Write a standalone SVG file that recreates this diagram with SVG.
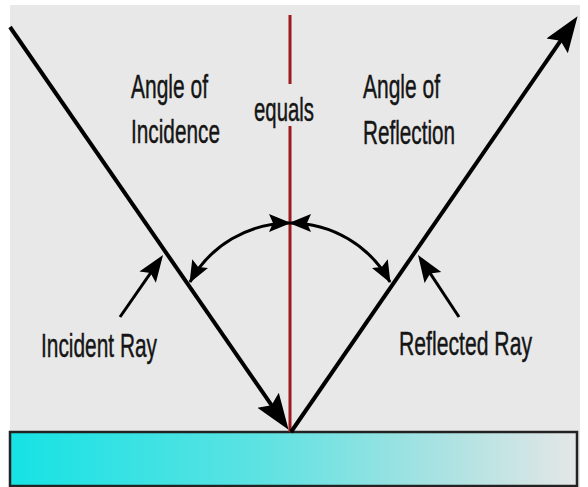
<svg xmlns="http://www.w3.org/2000/svg" width="588" height="487" viewBox="0 0 588 487">
<defs>
<linearGradient id="water" x1="0" y1="0" x2="1" y2="0">
<stop offset="0" stop-color="#16e2e4"/>
<stop offset="0.45" stop-color="#5fe2e2"/>
<stop offset="0.75" stop-color="#a8e2e2"/>
<stop offset="1" stop-color="#e4e6e6"/>
</linearGradient>
<marker id="bigArrow" markerUnits="userSpaceOnUse" markerWidth="38" markerHeight="30" viewBox="0 0 38 30" refX="29" refY="15" orient="auto">
<path d="M0,2 L36,15 L0,28 L6,15 Z" fill="#000"/>
</marker>
<marker id="ptrArrow" markerUnits="userSpaceOnUse" markerWidth="28" markerHeight="22" viewBox="0 0 28 22" refX="22" refY="11" orient="auto">
<path d="M0,1 L27,11 L0,21 L5,11 Z" fill="#000"/>
</marker>
<marker id="arcArrow" markerUnits="userSpaceOnUse" markerWidth="24" markerHeight="20" viewBox="0 0 24 20" refX="21" refY="10" orient="auto-start-reverse">
<path d="M0,1 L22,10 L0,19 L4,10 Z" fill="#000"/>
</marker>
</defs>
<style>
.lbl { font-family: "Liberation Sans", Arial, sans-serif; font-size: 25px; fill: #151515; stroke: #151515; stroke-width: 0.35; }
.ray { stroke: #000; stroke-width: 4; fill: none; }
.ptr { stroke: #000; stroke-width: 3; fill: none; }
.arc { stroke: #000; stroke-width: 3; fill: none; }
.normal { stroke: #9a1a1e; stroke-width: 3; }
</style>
<rect x="0" y="0" width="588" height="487" fill="#ffffff"/>
<rect x="10" y="5" width="570" height="482" fill="#e8e8e8"/>

<g id="mirror">
<rect x="10" y="432" width="567" height="54" fill="url(#water)" stroke="#222" stroke-width="2.5"/>
</g>

<g id="connectors">
<line class="normal" x1="290" y1="15" x2="290" y2="84"/>
<line class="normal" x1="290" y1="126" x2="290" y2="432"/>
<line class="ray" x1="10" y1="27" x2="284.6" y2="424.1" marker-end="url(#bigArrow)"/>
<line class="ray" x1="291" y1="432" x2="573.6" y2="21.9" marker-end="url(#bigArrow)"/>
<line class="ptr" x1="120" y1="317" x2="160.2" y2="259.1" marker-end="url(#ptrArrow)"/>
<line class="ptr" x1="459" y1="317" x2="420.8" y2="259.2" marker-end="url(#ptrArrow)"/>
<path class="arc" d="M190,282 A114,114 0 0 1 290,223" marker-start="url(#arcArrow)" marker-end="url(#arcArrow)"/>
<path class="arc" d="M390,282 A114,114 0 0 0 290,223" marker-start="url(#arcArrow)" marker-end="url(#arcArrow)"/>
</g>

<g id="angle-incidence">
<text class="lbl" transform="translate(131,98) scale(1,1.35)" textLength="77" lengthAdjust="spacingAndGlyphs">Angle of</text>
<text class="lbl" transform="translate(131,143) scale(1,1.35)" textLength="89" lengthAdjust="spacingAndGlyphs">Incidence</text>
</g>
<g id="equals">
<text class="lbl" transform="translate(254,121) scale(1,1.35)" textLength="60" lengthAdjust="spacingAndGlyphs">equals</text>
</g>
<g id="angle-reflection">
<text class="lbl" transform="translate(363,98) scale(1,1.35)" textLength="77" lengthAdjust="spacingAndGlyphs">Angle of</text>
<text class="lbl" transform="translate(363,144) scale(1,1.35)" textLength="92" lengthAdjust="spacingAndGlyphs">Reflection</text>
</g>
<g id="incident-ray">
<text class="lbl" transform="translate(41,357) scale(1,1.35)" textLength="116" lengthAdjust="spacingAndGlyphs">Incident Ray</text>
</g>
<g id="reflected-ray">
<text class="lbl" transform="translate(399,355) scale(1,1.35)" textLength="133" lengthAdjust="spacingAndGlyphs">Reflected Ray</text>
</g>
</svg>
